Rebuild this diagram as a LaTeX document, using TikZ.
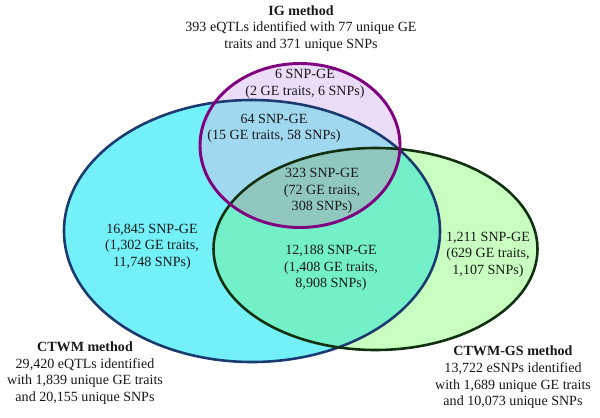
\documentclass[tikz,border=0pt]{standalone}
\usepackage{fontspec}
\setmainfont{Liberation Serif}
\definecolor{cyanfill}{RGB}{115,240,248}
\definecolor{greenfill}{RGB}{200,255,192}
\definecolor{cgfill}{RGB}{115,240,200}
\definecolor{purplefill}{RGB}{235,221,248}
\definecolor{pcfill}{RGB}{160,216,240}
\definecolor{pgfill}{RGB}{190,225,215}
\definecolor{pcgfill}{RGB}{144,200,192}
\definecolor{cyanline}{RGB}{26,58,112}
\definecolor{greenline}{RGB}{16,48,16}
\definecolor{purpleline}{RGB}{128,0,128}
\definecolor{txt}{RGB}{25,25,25}
\tikzset{
  lbl/.style={align=center, text=txt, font=\fontsize{12}{14.2}\selectfont, inner sep=0pt},
  border/.style={line width=2.2pt}
}
\begin{document}
\begin{tikzpicture}[x=0.03cm,y=-0.03cm]
\useasboundingbox (0,0) rectangle (600,417);
\fill[white] (0,0) rectangle (600,417);
\def\CTWM{(252,231) ellipse (188 and 131)}
\def\GS{(375.5,249) ellipse (162 and 101)}
\def\IG{(300,145.5) ellipse (100 and 82)}
% fills
\fill[cyanfill] \CTWM;
\fill[greenfill] \GS;
\begin{scope}\clip \CTWM; \fill[cgfill] \GS; \end{scope}
\fill[purplefill] \IG;
\begin{scope}\clip \GS; \fill[pgfill] \IG; \end{scope}
\begin{scope}\clip \CTWM; \fill[pcfill] \IG; \end{scope}
\begin{scope}\clip \CTWM; \clip \GS; \fill[pcgfill] \IG; \end{scope}
% borders
\draw[border, cyanline] \CTWM;
\draw[border, greenline] \GS;
\draw[border, purpleline, line width=2.5pt] \IG;
% labels
\node[lbl] (ig) at (301,28.5) {\textbf{IG method}\\393 eQTLs identified with 77 unique GE\\traits and 371 unique SNPs};
\node[lbl] (igonly) at (305,84) {6 SNP-GE\\(2 GE traits, 6 SNPs)};
\node[lbl] (igctwm) at (274,128.5) {64 SNP-GE\\(15 GE traits, 58 SNPs)};
\node[lbl] (all) at (322,191) {323 SNP-GE\\(72 GE traits,\\308 SNPs)};
\node[lbl] (ctwmonly) at (152,246.5) {16,845 SNP-GE\\(1,302 GE traits,\\11,748 SNPs)};
\node[lbl] (ctwmgs) at (331,268) {12,188 SNP-GE\\(1,408 GE traits,\\8,908 SNPs)};
\node[lbl] (gsonly) at (488,254.5) {1,211 SNP-GE\\(629 GE traits,\\1,107 SNPs)};
\node[lbl] (ctwm) at (85,373) {\textbf{CTWM method}\\29,420 eQTLs identified\\with 1,839 unique GE traits\\and 20,155 unique SNPs};
\node[lbl] (gs) at (513,377.5) {\textbf{CTWM-GS method}\\13,722 eSNPs identified\\with 1,689 unique GE traits\\and 10,073 unique SNPs};
\end{tikzpicture}
\end{document}
